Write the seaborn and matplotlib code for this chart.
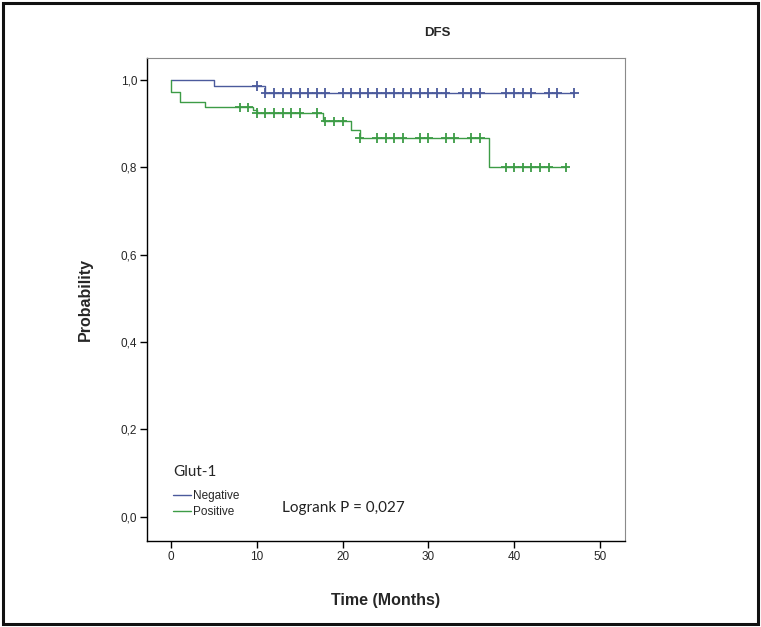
import numpy as np
import pandas as pd
import matplotlib.pyplot as plt
import seaborn as sns
from matplotlib.patches import Rectangle

# Kaplan-Meier step data
groups = ["Negative", "Positive"]
colors = ["#4b5a9c", "#3d9c46"]

neg_times = [0, 5, 11, 47]
neg_surv = [1.0, 0.986, 0.970, 0.970]
neg_censored = [10, 11, 12, 13, 14, 15, 16, 17, 18, 20, 21, 22, 23, 24, 25, 26, 27,
                28, 29, 30, 31, 32, 34, 35, 36, 39, 40, 41, 42, 44, 45, 47]

pos_times = [0, 0, 1, 4, 9.5, 10, 17.7, 21, 22, 37, 46]
pos_surv = [1.0, 0.973, 0.949, 0.937, 0.930, 0.924, 0.905, 0.886, 0.867, 0.800, 0.800]
pos_censored = [8, 9, 10, 11, 12, 13, 14, 15, 17, 18, 19, 20, 22, 24, 25, 26, 27,
                29, 30, 32, 33, 35, 36, 39, 40, 41, 42, 43, 44, 46]

x_ticks = [0, 10, 20, 30, 40, 50]
y_ticks = [0.0, 0.2, 0.4, 0.6, 0.8, 1.0]


def step_value(times, surv, t):
    idx = np.searchsorted(times, t, side="right") - 1
    return surv[idx]


lines = pd.concat([
    pd.DataFrame({"time": neg_times, "surv": neg_surv, "Glut-1": groups[0]}),
    pd.DataFrame({"time": pos_times, "surv": pos_surv, "Glut-1": groups[1]}),
], ignore_index=True)

cens = pd.concat([
    pd.DataFrame({"time": neg_censored,
                  "surv": [step_value(neg_times, neg_surv, t) for t in neg_censored],
                  "Glut-1": groups[0]}),
    pd.DataFrame({"time": pos_censored,
                  "surv": [step_value(pos_times, pos_surv, t) for t in pos_censored],
                  "Glut-1": groups[1]}),
], ignore_index=True)

sns.set_style("white")
plt.rcParams["font.family"] = ["Liberation Sans", "DejaVu Sans"]

fig = plt.figure(figsize=(7.61, 6.27), dpi=100)
ax = fig.add_axes([0.1932, 0.1372, 0.628, 0.7703])

sns.lineplot(data=lines, x="time", y="surv", hue="Glut-1", palette=colors,
             drawstyle="steps-post", estimator=None, sort=False,
             linewidth=1.0, ax=ax)
sns.scatterplot(data=cens, x="time", y="surv", hue="Glut-1", palette=colors,
                marker="+", s=45, linewidth=1.3, legend=False, ax=ax)

ax.set_xlim(-2.8, 52.9)
ax.set_ylim(-0.0557, 1.050)
ax.set_xticks(x_ticks)
ax.set_xticklabels([str(v) for v in x_ticks], fontsize=8.5)
ax.set_yticks(y_ticks)
ax.set_yticklabels([f"{v:.1f}".replace(".", ",") for v in y_ticks], fontsize=8.5)
ax.tick_params(axis="both", direction="out", length=5, width=1, color="black",
               bottom=True, left=True, pad=2)
ax.set_xlabel("Time (Months)", fontsize=11.5, fontweight="bold", labelpad=22)
ax.set_ylabel("Probability", fontsize=11.5, fontweight="bold", labelpad=20)

for side in ["top", "right"]:
    ax.spines[side].set_color("#8a8a8a")
    ax.spines[side].set_linewidth(0.8)
for side in ["left", "bottom"]:
    ax.spines[side].set_color("black")
    ax.spines[side].set_linewidth(1.0)

handles, labels = ax.get_legend_handles_labels()
leg = ax.legend(handles, labels, title="Glut-1", loc="upper left",
                bbox_to_anchor=(0.042, 0.169), frameon=False, fontsize=8.5,
                handlelength=1.5, handletextpad=0.2, labelspacing=0.3,
                borderpad=0)
leg.get_title().set_fontfamily("Lato")
leg.get_title().set_fontsize(11)
leg._legend_box.align = "left"
leg._legend_box.sep = 8

ax.text(0.282, 0.06, "Logrank P = 0,027", transform=ax.transAxes,
        fontsize=11, family="Lato", color="#222222")

fig.text(0.574, 0.947, "DFS", ha="center", va="center", fontsize=9.5,
         fontweight="bold", family=["Liberation Sans Narrow", "Liberation Sans"])

fig.patches.append(Rectangle((0.004, 0.004), 0.992, 0.992, transform=fig.transFigure,
                             fill=False, edgecolor="#111111", linewidth=2.2))

fig.savefig("out.png", dpi=100)
